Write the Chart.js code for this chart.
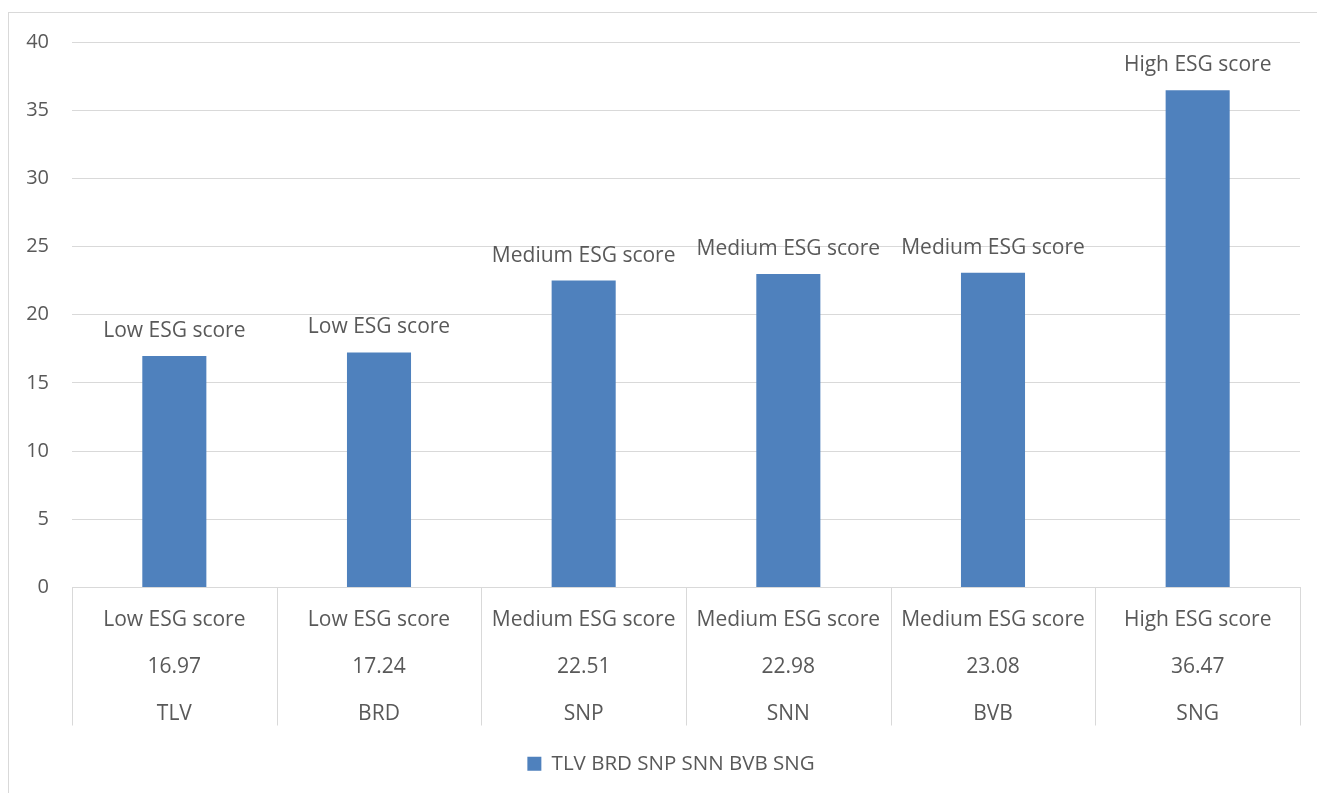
<!DOCTYPE html>
<html lang="en">
<head>
  <meta charset="UTF-8">
  <title>ESG score by company</title>
  <style>
    body {
      margin: 0;
      background: #fff;
    }
    #wrap {
      width: 1317px;
      height: 793px;
    }
  </style>
  <script src="https://cdn.jsdelivr.net/npm/chart.js"></script>
</head>
<body>
  <div id="wrap"><canvas id="esgChart" width="1317" height="793"></canvas></div>
  <script>
    const tickers = ['TLV', 'BRD', 'SNP', 'SNN', 'BVB', 'SNG'];
    const scores = [16.97, 17.24, 22.51, 22.98, 23.08, 36.47];
    const esgClass = ['Low ESG score', 'Low ESG score', 'Medium ESG score', 'Medium ESG score', 'Medium ESG score', 'High ESG score'];
    const yTicks = [0, 5, 10, 15, 20, 25, 30, 35, 40];

    const textColor = '#595959';
    const lineColor = '#d9d9d9';
    const barColor = '#4f81bd';
    const fontFamily = '"Open Sans", "Noto Sans", sans-serif';

    // x labels: three rows per category
    const xLabels = tickers.map((t, i) => [esgClass[i], scores[i].toFixed(2), t]);

    // outer frame + category separators under the axis
    const framePlugin = {
      id: 'frame',
      afterLayout(chart) {
        // legend sits a bit right of the canvas centre in the original
        chart.legend.left += 13;
        chart.legend.right += 13;
      },
      beforeDraw(chart) {
        const ctx = chart.ctx;
        ctx.save();
        ctx.strokeStyle = lineColor;
        ctx.lineWidth = 1;
        ctx.strokeRect(8.5, 12.5, 1400, 900);
        ctx.restore();
      },
      afterDraw(chart) {
        const ctx = chart.ctx;
        const x = chart.scales.x;
        const area = chart.chartArea;
        const half = (x.getPixelForValue(1) - x.getPixelForValue(0)) / 2;
        ctx.save();
        ctx.strokeStyle = lineColor;
        ctx.lineWidth = 1;
        for (let i = 0; i <= tickers.length; i++) {
          const px = Math.round(x.getPixelForValue(0) - half + i * half * 2) + 0.5;
          ctx.beginPath();
          ctx.moveTo(px, area.bottom);
          ctx.lineTo(px, area.bottom + 138);
          ctx.stroke();
        }
        ctx.restore();
      }
    };

    // class label above each bar
    const barLabelPlugin = {
      id: 'barLabels',
      afterDatasetsDraw(chart) {
        const ctx = chart.ctx;
        const meta = chart.getDatasetMeta(0);
        ctx.save();
        ctx.fillStyle = textColor;
        ctx.font = '21px ' + fontFamily;
        ctx.textAlign = 'center';
        ctx.textBaseline = 'middle';
        meta.data.forEach((bar, i) => {
          ctx.fillText(esgClass[i], bar.x, bar.y - 25);
        });
        ctx.restore();
      }
    };

    new Chart(document.getElementById('esgChart'), {
      type: 'bar',
      data: {
        labels: xLabels,
        datasets: [{
          label: tickers.join(' '),
          data: scores,
          backgroundColor: barColor,
          borderWidth: 0,
          categoryPercentage: 1,
          barPercentage: 0.313
        }]
      },
      options: {
        responsive: false,
        animation: false,
        layout: {
          padding: { left: 16, right: 17, top: 42, bottom: 9 }
        },
        plugins: {
          legend: {
            position: 'bottom',
            labels: {
              color: textColor,
              font: { family: fontFamily, size: 20.5 },
              boxWidth: 14,
              boxHeight: 14,
              padding: 10
            }
          },
          tooltip: { enabled: false }
        },
        scales: {
          x: {
            grid: { display: false },
            border: { display: true, color: lineColor },
            ticks: {
              color: textColor,
              font: { family: fontFamily, size: 21, lineHeight: 47 / 21 },
              padding: 1,
              maxRotation: 0,
              autoSkip: false
            },
            afterFit(scale) {
              scale.height = 156;
            }
          },
          y: {
            min: 0,
            max: 40,
            afterBuildTicks(scale) {
              scale.ticks = yTicks.map(v => ({ value: v }));
            },
            grid: { color: lineColor, drawTicks: false },
            border: { display: false },
            ticks: {
              color: textColor,
              font: { family: fontFamily, size: 20 },
              padding: 23
            },
            afterFit(scale) {
              scale.width = 56;
            }
          }
        }
      },
      plugins: [framePlugin, barLabelPlugin]
    });
  </script>
</body>
</html>
